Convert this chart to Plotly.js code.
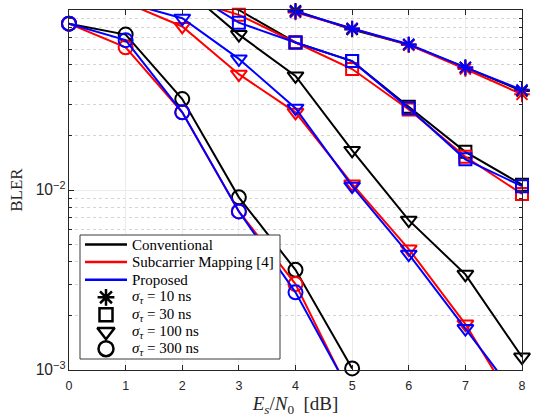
<!DOCTYPE html>
<html>
<head>
<meta charset="utf-8">
<script src="https://cdn.plot.ly/plotly-3.0.1.min.js"></script>
<style>html,body{margin:0;padding:0;background:#fff;}#chart{width:533px;height:417px;}</style>
</head>
<body>
<div id="chart"></div>
<script>
// Es/N0 in dB
const snr = [0, 1, 2, 3, 4, 5, 6, 7, 8];

// sigma_tau = 10 ns
const conv10 = [null, null, null, 0.13, 0.099, 0.078, 0.064, 0.048, 0.0355];
const map10  = [null, null, null, 0.13, 0.097, 0.079, 0.064, 0.047, 0.034];
const prop10 = [null, null, null, 0.13, 0.098, 0.079, 0.0645, 0.048, 0.036];

// sigma_tau = 30 ns
const conv30 = [null, null, 0.13, 0.100, 0.066, 0.052, 0.029, 0.0163, 0.0107];
const map30  = [null, null, 0.117, 0.094, 0.066, 0.047, 0.028, 0.0153, 0.0095];
const prop30 = [null, null, 0.133, 0.085, 0.066, 0.052, 0.0285, 0.0148, 0.0105];

// sigma_tau = 100 ns
const conv100 = [null, null, 0.135, 0.073, 0.043, 0.0166, 0.0068, 0.0034, 0.00118];
const map100  = [null, 0.11, 0.081, 0.044, 0.027, 0.0108, 0.0047, 0.0018, 0.00055];
const prop100 = [null, 0.11, 0.090, 0.0535, 0.0285, 0.0105, 0.0044, 0.0017, 0.00065];

// sigma_tau = 300 ns
const conv300 = [0.084, 0.073, 0.032, 0.0091, 0.0036, 0.00102, null, null, null];
const map300  = [0.084, 0.062, 0.027, 0.0076, 0.0030, 0.0007, null, null, null];
const prop300 = [0.084, 0.068, 0.027, 0.0076, 0.0027, 0.00072, null, null, null];

const methodNames = ['Conventional', 'Subcarrier Mapping [4]', 'Proposed'];
const methodColors = ['#000000', '#ff0000', '#0000ff'];
const sigmaLabels = ['10', '30', '100', '300'];
const sigmaSymbols = ['asterisk-open', 'square-open', 'triangle-down-open', 'circle-open'];
const sigmaSizes = [13, 12, 14, 14];

const groups = [
  [conv10, map10, prop10],
  [conv30, map30, prop30],
  [conv100, map100, prop100],
  [conv300, map300, prop300]
];

const SERIF = 'Liberation Serif, Times New Roman, serif';
const YMIN = 1e-3, YMAX = 1e-1;
const traces = [];
groups.forEach((g, si) => {
  g.forEach((ys, mi) => {
    traces.push({
      x: snr, y: ys, type: 'scatter', mode: 'lines',
      line: {color: methodColors[mi], width: 2},
      showlegend: false, hoverinfo: 'skip', connectgaps: false
    });
    const mx = [], my = [];
    ys.forEach((v, i) => { if (v !== null && v >= YMIN * 0.999 && v <= YMAX * 1.001) { mx.push(snr[i]); my.push(v); } });
    traces.push({
      x: mx, y: my, type: 'scatter', mode: 'markers', cliponaxis: false,
      marker: {symbol: sigmaSymbols[si], size: sigmaSizes[si], color: methodColors[mi],
               line: {color: methodColors[mi], width: 2}},
      showlegend: false, hoverinfo: 'skip'
    });
  });
});

// ---- legend drawn on an overlay axis pair measured in pixels of the plot area ----
const PL = 69, PR = 522, PT = 10, PB = 370;
const LG = {x0: 80, x1: 280, y0: 235, y1: 359, lineX0: 85, lineX1: 127, symX: 106, textX: 130,
            rows: [244.5, 262, 279.7, 297.3, 314.7, 331.7, 348.7]};
const legAx = {xaxis: 'x2', yaxis: 'y2', showlegend: false, hoverinfo: 'skip'};
traces.push(Object.assign({
  x: [LG.x0, LG.x1, LG.x1, LG.x0, LG.x0], y: [LG.y0, LG.y0, LG.y1, LG.y1, LG.y0],
  type: 'scatter', mode: 'lines', fill: 'toself', fillcolor: '#ffffff',
  line: {color: '#3a3a3a', width: 1}
}, legAx));
const annotations = [];
const legFont = {family: SERIF, size: 15, color: '#000'};
methodNames.forEach((n, i) => {
  traces.push(Object.assign({x: [LG.lineX0, LG.lineX1], y: [LG.rows[i], LG.rows[i]], type: 'scatter',
    mode: 'lines', line: {color: methodColors[i], width: 2.5}}, legAx));
  annotations.push({xref: 'x2', yref: 'y2', x: LG.textX, y: LG.rows[i], text: n, showarrow: false,
    xanchor: 'left', yanchor: 'middle', font: legFont});
});
sigmaLabels.forEach((s, i) => {
  const r = LG.rows[3 + i];
  traces.push(Object.assign({x: [LG.symX], y: [r], type: 'scatter', mode: 'markers', cliponaxis: false,
    marker: {symbol: sigmaSymbols[i], size: sigmaSizes[i] + 1, color: '#000', line: {color: '#000', width: 2.5}}}, legAx));
  annotations.push({xref: 'x2', yref: 'y2', x: LG.textX, y: r,
    text: '<i>σ</i><sub><i>τ</i></sub> = ' + s + ' ns', showarrow: false, xanchor: 'left', yanchor: 'middle',
    font: legFont});
});

const axisCommon = {
  showline: true, linecolor: '#262626', linewidth: 1, mirror: 'allticks',
  ticks: 'inside', ticklen: 5, tickcolor: '#262626', zeroline: false,
  showgrid: true, gridcolor: '#ebebeb', gridwidth: 1,
  tickfont: {family: 'Liberation Sans, Arial, sans-serif', size: 12.5, color: '#262626'}
};

const layout = {
  width: 533, height: 417,
  margin: {l: PL, r: 533 - PR, t: PT, b: 417 - PB},
  paper_bgcolor: '#ffffff', plot_bgcolor: '#ffffff',
  showlegend: false,
  xaxis: Object.assign({}, axisCommon, {
    range: [0, 8], dtick: 1, tick0: 0, ticklabelstandoff: 4,
    title: {text: '<i>E<sub>s</sub></i>/<i>N</i><sub>0</sub>  [dB]', standoff: 2,
            font: {family: SERIF, size: 19, color: '#262626'}}
  }),
  yaxis: Object.assign({}, axisCommon, {
    type: 'log', range: [-3, -1], dtick: 1, exponentformat: 'power',
    minor: {dtick: 'D1', showgrid: true, gridcolor: '#d4d4d4', griddash: 'dot', ticks: 'inside', ticklen: 3, tickcolor: '#262626'},
    title: {text: 'BLER', standoff: 8,
            font: {family: SERIF, size: 17, color: '#262626'}}
  }),
  xaxis2: {overlaying: 'x', anchor: 'y2', range: [PL, PR], visible: false, fixedrange: true},
  yaxis2: {overlaying: 'y', anchor: 'x2', range: [PB, PT], visible: false, fixedrange: true},
  annotations: annotations
};

Plotly.newPlot('chart', traces, layout, {displayModeBar: false, staticPlot: true});
</script>
</body>
</html>
